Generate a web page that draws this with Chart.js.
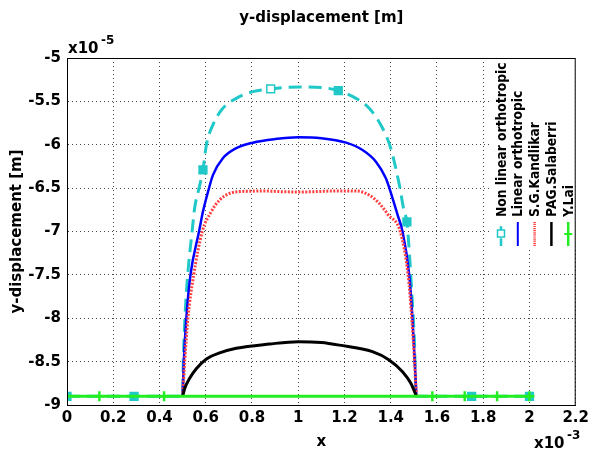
<!DOCTYPE html>
<html>
<head>
<meta charset="utf-8">
<script src="https://cdn.jsdelivr.net/npm/chart.js@4/dist/chart.umd.min.js"></script>
<style>
  html, body { margin: 0; padding: 0; background: #fff; }
  #wrap { width: 593px; height: 457px; }
</style>
</head>
<body>
<div id="wrap"><canvas id="dispChart" width="593" height="457"></canvas></div>
<script>
// values in units of 1e-3 (x) and 1e-5 (y)
const xTicks = [0, 0.2, 0.4, 0.6, 0.8, 1, 1.2, 1.4, 1.6, 1.8, 2, 2.2];
const yTicks = [-5, -5.5, -6, -6.5, -7, -7.5, -8, -8.5, -9];

const nonLinX = [0, 0.29, 0.5, 0.503, 0.51, 0.522, 0.541, 0.552, 0.571, 0.588, 0.603, 0.631, 0.674, 0.732, 0.804, 0.881, 1.005, 1.099, 1.173, 1.25, 1.307, 1.365, 1.4, 1.437, 1.458, 1.47, 1.482, 1.493, 1.503, 1.51, 1.75, 2.0];
const nonLinY = [-8.9, -8.9, -8.9, -8.5, -8.0, -7.5, -7.0, -6.73, -6.5, -6.29, -6.0, -5.77, -5.58, -5.465, -5.388, -5.357, -5.334, -5.34, -5.377, -5.465, -5.58, -5.81, -6.04, -6.46, -6.77, -6.89, -7.3, -7.79, -8.3, -8.9, -8.9, -8.9];
const nonLinMarks = [0, 1, 9, 15, 18, 25, 30, 31];

const linX = [0.5, 0.505, 0.516, 0.534, 0.571, 0.588, 0.6, 0.61, 0.631, 0.674, 0.732, 0.804, 0.9, 1.0, 1.1, 1.207, 1.278, 1.336, 1.379, 1.408, 1.43, 1.451, 1.48, 1.494, 1.504, 1.511];
const linY = [-8.9, -8.5, -8.0, -7.5, -7.0, -6.77, -6.64, -6.54, -6.35, -6.156, -6.04, -5.976, -5.935, -5.914, -5.925, -5.976, -6.06, -6.195, -6.387, -6.617, -6.81, -7.0, -7.5, -8.0, -8.5, -8.9];

const kandX = [0.5, 0.509, 0.523, 0.548, 0.585, 0.624, 0.66, 0.703, 0.746, 0.8, 0.85, 0.92, 1.0, 1.08, 1.15, 1.25, 1.307, 1.35, 1.39, 1.441, 1.475, 1.491, 1.503, 1.511];
const kandY = [-8.9, -8.5, -8.0, -7.5, -7.0, -6.77, -6.637, -6.56, -6.54, -6.535, -6.533, -6.54, -6.545, -6.54, -6.533, -6.533, -6.58, -6.675, -6.81, -7.0, -7.5, -8.0, -8.5, -8.9];

const salX = [0.5, 0.509, 0.531, 0.56, 0.603, 0.66, 0.732, 0.876, 1.0, 1.1, 1.178, 1.321, 1.393, 1.451, 1.487, 1.511];
const salY = [-8.9, -8.81, -8.69, -8.58, -8.47, -8.40, -8.346, -8.297, -8.27, -8.28, -8.31, -8.385, -8.48, -8.616, -8.75, -8.9];

const laiX = [0, 0.14, 0.42, 1.58, 1.72, 1.86, 2.0];
const laiY = [-8.9, -8.9, -8.9, -8.9, -8.9, -8.9, -8.9];

const pts = (xs, ys) => xs.map((x, i) => ({ x: x, y: ys[i] }));

const CYAN = '#20c8c8', BLUE = '#0000ff', RED = '#ff4040', BLACK = '#000000', GREEN = '#22ee22';
const BOLD = 'DejaVu Sans';

const datasets = [
  {
    label: 'Non linear orthotropic', data: pts(nonLinX, nonLinY),
    borderColor: CYAN, borderWidth: 3, borderDash: [13, 7],
    pointStyle: 'rect', pointBorderColor: CYAN, pointBorderWidth: 1.5,
    pointBackgroundColor: nonLinX.map((_, i) => i === 15 ? '#ffffff' : CYAN),
    pointRadius: nonLinX.map((_, i) => nonLinMarks.includes(i) ? 5.5 : 0),
    order: 5
  },
  { label: 'Linear orthotropic', data: pts(linX, linY), borderColor: BLUE, borderWidth: 2.5, pointRadius: 0, order: 4 },
  { label: 'S.G.Kandlikar', data: pts(kandX, kandY), borderColor: RED, borderWidth: 3, borderDash: [2, 1.5], pointRadius: 0, order: 3 },
  { label: 'PAG.Salaberri', data: pts(salX, salY), borderColor: BLACK, borderWidth: 3, pointRadius: 0, order: 2 },
  {
    label: 'Y.Lai', data: pts(laiX, laiY), borderColor: GREEN, borderWidth: 3,
    pointStyle: 'cross', pointBorderColor: GREEN, pointBorderWidth: 2.5,
    pointRadius: laiX.map((x) => x === 0 ? 0 : 5), order: 1
  }
];

// title, exponent labels, rotated legend, box
const decor = {
  id: 'decor',
  afterDatasetsDraw(chart) {
    const { ctx, chartArea: a } = chart;
    ctx.save();
    // legend box
    ctx.fillStyle = '#fff';
    ctx.fillRect(492, a.top, a.right - 492, 248 - a.top);
    datasets.forEach((ds, i) => {
      const cx = 501 + i * 16.8;
      ctx.save();
      ctx.strokeStyle = ds.borderColor;
      ctx.lineWidth = ds.borderWidth - 0.5;
      ctx.setLineDash(ds.borderDash ? ds.borderDash.map(v => v * 0.6) : []);
      ctx.beginPath();
      ctx.moveTo(cx, 246);
      ctx.lineTo(cx, 222);
      ctx.stroke();
      ctx.setLineDash([]);
      if (ds.pointStyle === 'rect') {
        ctx.fillStyle = '#fff';
        ctx.lineWidth = 1.5;
        ctx.fillRect(cx - 3.5, 230, 7, 7);
        ctx.strokeRect(cx - 3.5, 230, 7, 7);
      } else if (ds.pointStyle === 'cross') {
        ctx.lineWidth = 2;
        ctx.beginPath();
        ctx.moveTo(cx - 4, 234);
        ctx.lineTo(cx + 4, 234);
        ctx.stroke();
      }
      ctx.translate(cx, 217);
      ctx.rotate(-Math.PI / 2);
      ctx.scale(0.88, 1);
      ctx.fillStyle = '#000';
      ctx.font = 'bold 14px "' + BOLD + '"';
      ctx.textAlign = 'left';
      ctx.textBaseline = 'middle';
      ctx.fillText(ds.label, 0, 1);
      ctx.restore();
    });
    // plot box
    ctx.strokeStyle = '#000';
    ctx.lineWidth = 1;
    ctx.strokeRect(a.left + 0.5, a.top + 0.5, a.right - a.left - 1, a.bottom - a.top);
    // title
    ctx.fillStyle = '#000';
    ctx.textBaseline = 'alphabetic';
    ctx.textAlign = 'center';
    ctx.font = 'bold 15px "' + BOLD + '"';
    ctx.fillText('y-displacement [m]', (a.left + a.right) / 2, 22);
    // exponents
    ctx.textAlign = 'left';
    ctx.fillText('x10', 68, 53);
    ctx.fillText('x10', 534, 448);
    ctx.font = 'bold 12px "' + BOLD + '"';
    ctx.fillText('-5', 101, 44);
    ctx.fillText('-3', 567, 439);
    ctx.restore();
  }
};

const tickFont = { family: BOLD, weight: 'bold', size: 15 };
const fmt = v => String(Number(v.toFixed(1)));

new Chart(document.getElementById('dispChart').getContext('2d'), {
  type: 'line',
  data: { datasets: datasets },
  options: {
    responsive: false,
    animation: false,
    layout: { padding: { top: 58, right: 16, left: 0, bottom: 0 } },
    elements: { line: { cubicInterpolationMode: 'monotone', fill: false } },
    plugins: { legend: { display: false }, tooltip: { enabled: false }, title: { display: false } },
    scales: {
      x: {
        type: 'linear', min: 0, max: 2.2,
        afterBuildTicks: s => { s.ticks = xTicks.map(v => ({ value: v })); },
        afterFit: s => { s.height = 52; },
        ticks: { color: '#000', font: tickFont, padding: 4, maxRotation: 0, callback: fmt },
        grid: { color: '#444', lineWidth: 1, drawTicks: false },
        border: { display: true, color: '#000', dash: [1, 3] },
        title: { display: true, text: 'x', color: '#000', font: tickFont, padding: { bottom: 6 } }
      },
      y: {
        type: 'linear', min: -9, max: -5,
        afterBuildTicks: s => { s.ticks = yTicks.map(v => ({ value: v })); },
        afterFit: s => { s.width = 67; },
        ticks: { color: '#000', font: tickFont, padding: 6, callback: fmt },
        grid: { color: '#444', lineWidth: 1, drawTicks: false },
        border: { display: true, color: '#000', dash: [1, 3] },
        title: { display: true, text: 'y-displacement [m]', color: '#000', font: tickFont, padding: { top: 8 } }
      }
    }
  },
  plugins: [decor]
});
</script>
</body>
</html>
